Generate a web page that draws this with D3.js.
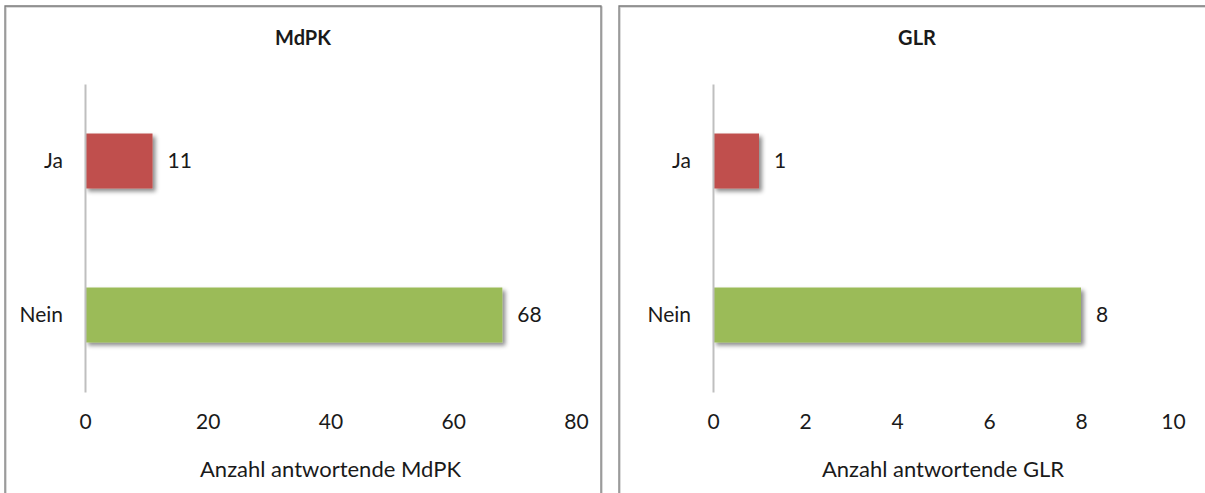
<!DOCTYPE html>
<html><head><meta charset="utf-8">
<script src="https://cdn.jsdelivr.net/npm/d3@7"></script>
<style>
html,body{margin:0;padding:0;background:#fff;overflow:hidden;}
svg{display:block;}
text{font-family:Lato,"Open Sans",sans-serif;fill:#1a1a1a;}
</style></head>
<body><svg id="c" width="1205" height="493"></svg>
<script>
const categories = ["Ja", "Nein"];
const mdpkValues = [11, 68];
const glrValues = [1, 8];
const mdpkTicks = [0, 20, 40, 60, 80];
const glrTicks = [0, 2, 4, 6, 8, 10];
const titles = ["MdPK", "GLR"];
const axisTitles = ["Anzahl antwortende MdPK", "Anzahl antwortende GLR"];
const barColors = ["#C0504D", "#9BBB59"];

const FS = 21;
const svg = d3.select("#c");
const defs = svg.append("defs");
const f = defs.append("filter").attr("id","sh").attr("x","-20%").attr("y","-30%").attr("width","150%").attr("height","180%");
f.append("feDropShadow").attr("dx",3).attr("dy",3).attr("stdDeviation",2.2).attr("flood-color","#000").attr("flood-opacity",0.45);

const panels = [
  {x0:5, x1:601, right:true, ax0:85, ax1:576, values:mdpkValues, ticks:mdpkTicks, max:80, title:titles[0], at:axisTitles[0], tx:303},
  {x0:619, x1:1300, right:false, ax0:713, ax1:1173, values:glrValues, ticks:glrTicks, max:10, title:titles[1], at:axisTitles[1], tx:917}
];

panels.forEach(p => {
  const g = svg.append("g");
  const frame = (dx,dy) => {
    const pa = d3.path();
    pa.moveTo(p.x0+dx, 500);
    pa.lineTo(p.x0+dx, 6+dy);
    pa.lineTo(p.x1+dx, 6+dy);
    if (p.right) pa.lineTo(p.x1+dx, 500);
    return pa.toString();
  };
  g.append("path").attr("d",frame(1,1)).attr("fill","none").attr("stroke","#d0d0d0").attr("stroke-width",1.5);
  g.append("path").attr("d",frame(0,0)).attr("fill","none").attr("stroke","#7a7a7a").attr("stroke-width",1.3);

  const x = d3.scaleLinear().domain([0,p.max]).range([p.ax0,p.ax1]);
  const y = d3.scaleBand().domain(categories).range([84,392]).paddingInner(0.643).paddingOuter(0.3215);

  g.append("text").attr("x",p.tx).attr("y",45).attr("text-anchor","middle")
    .attr("font-size",20).attr("font-weight","bold").text(p.title);

  g.selectAll("rect.bar").data(p.values).join("rect").attr("class","bar")
    .attr("x",x(0)).attr("y",(d,i)=>y(categories[i]))
    .attr("width",d=>x(d)-x(0)).attr("height",y.bandwidth())
    .attr("fill",(d,i)=>barColors[i]).attr("filter","url(#sh)");

  const yAxis = d3.axisLeft(y).tickSize(0).tickPadding(22);
  const ya = g.append("g").attr("transform",`translate(${x(0)},0)`).call(yAxis);
  ya.attr("font-size",FS).attr("font-family","Lato,'Open Sans',sans-serif");
  ya.select(".domain").attr("stroke","#bfbfbf").attr("stroke-width",2);
  ya.selectAll("text").attr("fill","#1a1a1a");

  const xAxis = d3.axisBottom(x).tickValues(p.ticks).tickSize(0).tickPadding(0).tickFormat(d3.format("d"));
  const xa = g.append("g").attr("transform","translate(0,414)").call(xAxis);
  xa.attr("font-size",FS).attr("font-family","Lato,'Open Sans',sans-serif");
  xa.select(".domain").remove();
  xa.selectAll("text").attr("fill","#1a1a1a");

  g.selectAll("text.val").data(p.values).join("text").attr("class","val")
    .attr("x",d=>x(d)+15).attr("y",(d,i)=>y(categories[i])+y.bandwidth()/2)
    .attr("dy","0.35em").attr("font-size",FS).text(d=>d);

  g.append("text").attr("x",(p.ax0+p.ax1)/2).attr("y",477).attr("text-anchor","middle")
    .attr("font-size",22).text(p.at);
});
</script></body></html>
